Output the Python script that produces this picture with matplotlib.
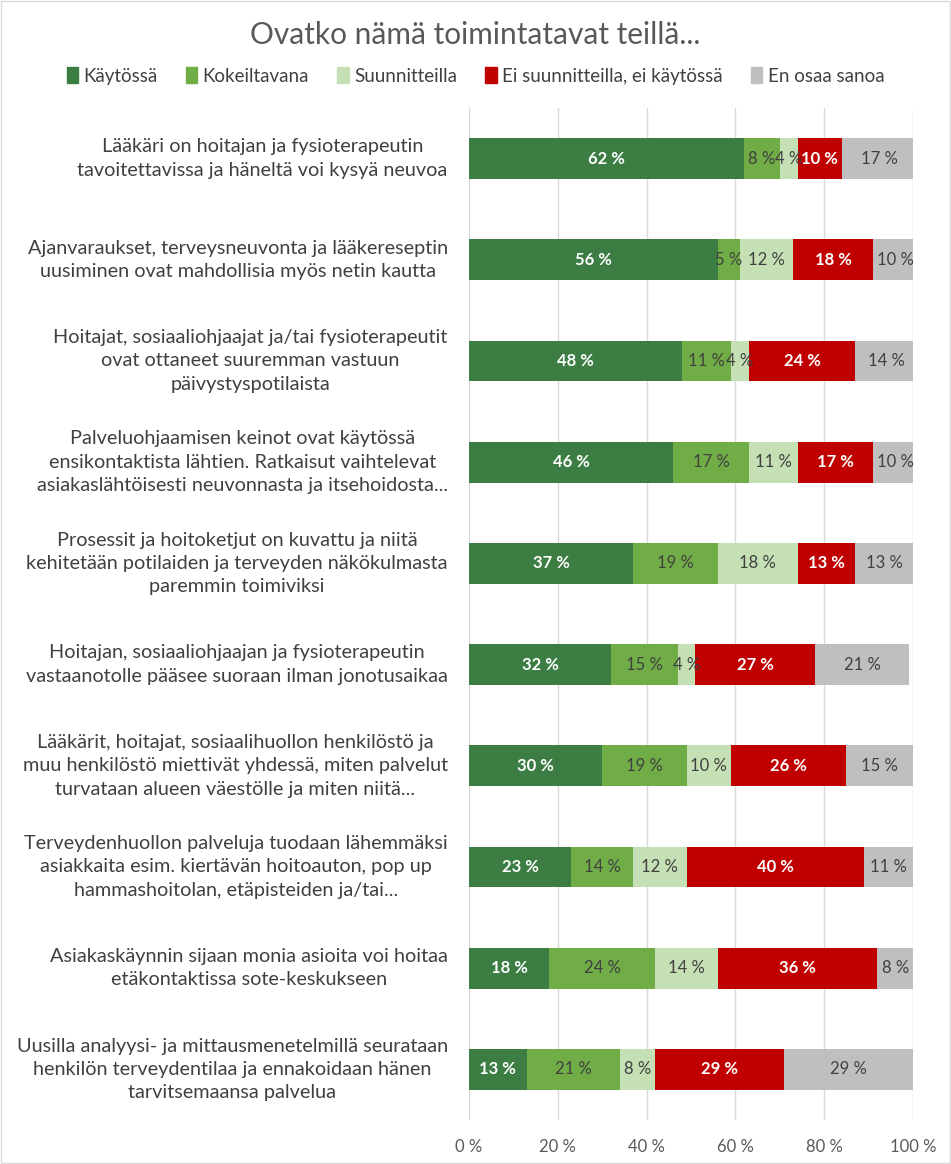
import matplotlib.pyplot as plt
from matplotlib.patches import Patch
import numpy as np

plt.rcParams['font.family'] = ['Lato', 'DejaVu Sans']

# data (percent)
categories = [
    "Lääkäri on hoitajan ja fysioterapeutin\ntavoitettavissa ja häneltä voi kysyä neuvoa",
    "Ajanvaraukset, terveysneuvonta ja lääkereseptin\nuusiminen ovat mahdollisia myös netin kautta",
    "Hoitajat, sosiaaliohjaajat ja/tai fysioterapeutit\novat ottaneet suuremman vastuun\npäivystyspotilaista",
    "Palveluohjaamisen keinot ovat käytössä\nensikontaktista lähtien. Ratkaisut vaihtelevat\nasiakaslähtöisesti neuvonnasta ja itsehoidosta...",
    "Prosessit ja hoitoketjut on kuvattu ja niitä\nkehitetään potilaiden ja terveyden näkökulmasta\nparemmin toimiviksi",
    "Hoitajan, sosiaaliohjaajan ja fysioterapeutin\nvastaanotolle pääsee suoraan ilman jonotusaikaa",
    "Lääkärit, hoitajat, sosiaalihuollon henkilöstö ja\nmuu henkilöstö miettivät yhdessä, miten palvelut\nturvataan alueen väestölle ja miten niitä...",
    "Terveydenhuollon palveluja tuodaan lähemmäksi\nasiakkaita esim. kiertävän hoitoauton, pop up\nhammashoitolan, etäpisteiden ja/tai...",
    "Asiakaskäynnin sijaan monia asioita voi hoitaa\netäkontaktissa sote-keskukseen",
    "Uusilla analyysi- ja mittausmenetelmillä seurataan\nhenkilön terveydentilaa ja ennakoidaan hänen\ntarvitsemaansa palvelua",
]
series = ["Käytössä", "Kokeiltavana", "Suunnitteilla", "Ei suunnitteilla, ei käytössä", "En osaa sanoa"]
kaytossa = [62, 56, 48, 46, 37, 32, 30, 23, 18, 13]
kokeiltavana = [8, 5, 11, 17, 19, 15, 19, 14, 24, 21]
suunnitteilla = [4, 12, 4, 11, 18, 4, 10, 12, 14, 8]
ei_suunnitteilla = [10, 18, 24, 17, 13, 27, 26, 40, 36, 29]
en_osaa = [17, 10, 14, 10, 13, 21, 15, 11, 8, 29]

colors = ["#3B7D43", "#70AD47", "#C5E0B4", "#C00000", "#BFBFBF"]
text_colors = ["white", "#404040", "#404040", "white", "#404040"]
bold = [True, False, False, True, False]

data = [kaytossa, kokeiltavana, suunnitteilla, ei_suunnitteilla, en_osaa]

fig = plt.figure(figsize=(9.51, 11.64), dpi=100)
ax = fig.add_axes([469 / 951, 1 - 1120 / 1164, 444 / 951, 1012 / 1164])

y = np.arange(len(categories))
left = np.zeros(len(categories))
for vals, name, col, tc, b in zip(data, series, colors, text_colors, bold):
    vals = np.array(vals, dtype=float)
    ax.barh(y, vals, left=left, height=0.405, color=col, label=name, zorder=2)
    for yi, l, v in zip(y, left, vals):
        ax.text(l + v / 2, yi, f"{int(v)} %", ha="center", va="center",
                color=tc, fontsize=12, fontweight="bold" if b else "normal", zorder=3)
    left += vals

ax.set_xlim(0, 100)
ax.set_ylim(len(categories) - 0.5, -0.5)
ax.set_xticks(range(0, 101, 20))
ax.set_xticklabels([f"{t} %" for t in range(0, 101, 20)])
ax.tick_params(axis="x", length=0, labelsize=12, labelcolor="#595959", pad=14)
ax.tick_params(axis="y", length=0)
ax.set_yticks(y)
ax.set_yticklabels([])
ax.grid(axis="x", color="#D9D9D9", linewidth=1, zorder=0)
for s in ax.spines.values():
    s.set_visible(False)

for yi, cat in zip(y, categories):
    ax.text(-0.048, yi, cat, transform=ax.get_yaxis_transform(), ha="right", va="center",
            multialignment="center", fontsize=14.3, color="#404040", linespacing=1.45)

fig.text(0.5, 1 - 35 / 1164, "Ovatko nämä toimintatavat teillä...", ha="center", va="center",
         fontsize=21.5, color="#595959")

handles = [Patch(color=c) for c in colors]
fig.legend(handles, series, loc="center", bbox_to_anchor=(0.5, 1 - 76 / 1164), ncol=5,
           frameon=False, fontsize=13.5, handlelength=0.6, handleheight=0.9,
           handletextpad=0.3, columnspacing=1.5, labelcolor="#404040")

fig.patches.append(plt.Rectangle((0.001, 0.001), 0.998, 0.998, transform=fig.transFigure,
                                 fill=False, edgecolor="#D9D9D9", linewidth=1))

fig.savefig("out.png", dpi=100)
